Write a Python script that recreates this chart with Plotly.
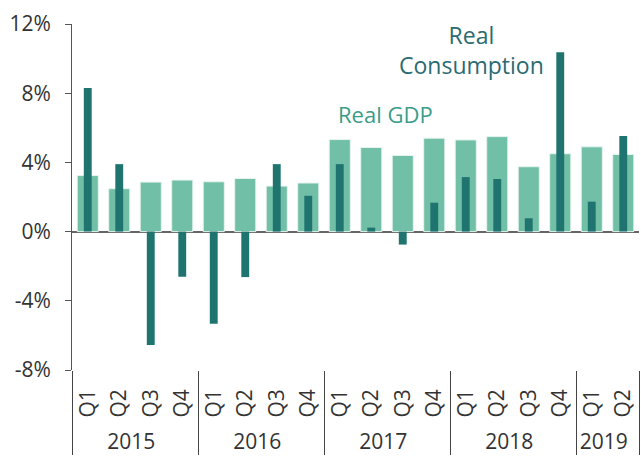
import plotly.graph_objects as go

years = ["2015"]*4 + ["2016"]*4 + ["2017"]*4 + ["2018"]*4 + ["2019"]*2
quarters = ["Q1", "Q2", "Q3", "Q4"]*4 + ["Q1", "Q2"]
real_gdp = [3.24, 2.48, 2.86, 2.98, 2.88, 3.07, 2.63, 2.81,
            5.32, 4.86, 4.40, 5.40, 5.30, 5.49, 3.75, 4.50, 4.90, 4.46]
real_consumption = [8.30, 3.90, -6.55, -2.61, -5.32, -2.63, 3.90, 2.07,
                    3.90, 0.23, -0.75, 1.67, 3.15, 3.04, 0.77, 10.36, 1.73, 5.52]
y_ticks = [-8, -4, 0, 4, 8, 12]
y_tick_text = ["-8%", "-4%", "0%", "4%", "8%", "12%"]

FONT = "Open Sans"

# pad inner labels so the outer (year) row sits lower, as in the reference
quarter_labels = ["\u00a0" + q for q in quarters]
x_cats = [years, quarter_labels]

fig = go.Figure()
fig.add_trace(go.Bar(
    x=x_cats, y=real_gdp, name="Real GDP",
    width=0.67, marker=dict(color="#71bfa6", line=dict(color="#e6f4ef", width=1)),
))
fig.add_trace(go.Bar(
    x=x_cats, y=real_consumption, name="Real Consumption",
    width=0.25, marker=dict(color="#1f7470", line=dict(width=0)),
))

fig.update_layout(
    width=641, height=457,
    margin=dict(l=72, r=2, t=24, b=87),
    barmode="overlay",
    showlegend=False,
    plot_bgcolor="white", paper_bgcolor="white",
    font=dict(family=FONT, size=21, color="#333333"),
    xaxis=dict(
        type="multicategory",
        automargin=False,
        tickangle=-90,
        showgrid=False,
        showline=False,
        ticks="",
        ticklabelstandoff=14,
        showdividers=True,
        dividercolor="#444444",
        dividerwidth=1,
        tickfont=dict(family=FONT, size=21, color="#333333"),
    ),
    yaxis=dict(
        automargin=False,
        range=[-8, 12],
        tickvals=y_ticks, ticktext=y_tick_text,
        showgrid=False,
        showline=True, linecolor="#555555", linewidth=1,
        ticks="outside", ticklen=6, tickcolor="#555555",
        ticklabelstandoff=10,
        zeroline=True, zerolinecolor="#666666", zerolinewidth=1.5,
        tickfont=dict(family=FONT, size=21, color="#333333"),
    ),
    annotations=[
        dict(text="Real GDP", x=0.553, y=6.8, xref="paper", yref="y", xanchor="center",
             showarrow=False, font=dict(family=FONT, size=22, color="#3a9c89")),
        dict(text="Real<br>Consumption", x=0.704, y=10.5, xref="paper", yref="y", xanchor="center",
             showarrow=False, font=dict(family=FONT, size=23, color="#2b6b72")),
    ],
)

fig.write_html("out.html", config={"displayModeBar": False},
               post_script="document.body.style.margin='0';")
